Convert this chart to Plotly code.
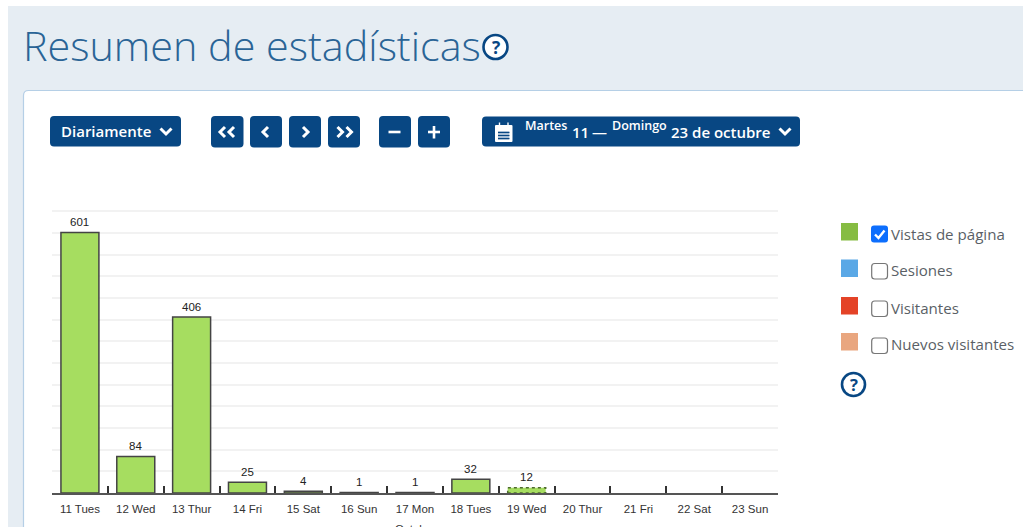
import plotly.graph_objects as go

categories = ["11 Tues", "12 Wed", "13 Thur", "14 Fri", "15 Sat", "16 Sun", "17 Mon",
              "18 Tues", "19 Wed", "20 Thur", "21 Fri", "22 Sat", "23 Sun"]
page_views = [601, 84, 406, 25, 4, 1, 1, 32, 12, None, None, None, None]
partial_day = "19 Wed"
axis_title = "Octubre"
page_title = "Resumen de estadísticas"
legend_names = ["Vistas de página", "Sesiones", "Visitantes", "Nuevos visitantes"]
legend_colors = ["#86bc42", "#5aa8e6", "#e44327", "#e9a67f"]
legend_checked = [True, False, False, False]

W, H = 1023, 527
L, R, T, B = 52, 778, 210, 493
NAVY = "#084783"


def px(x):
    return (x - L) / (R - L)


def py(y):
    return (B - y) / (B - T)


shapes = []
notes = []


def rrect(x0, y0, x1, y1, r, fill, line=None, lw=0, layer="above"):
    a, b, c, d = px(x0), px(x1), py(y0), py(y1)
    rx, ry = r / (R - L), r / (B - T)
    path = (f"M{a+rx},{c} L{b-rx},{c} Q{b},{c} {b},{c-ry} L{b},{d+ry} Q{b},{d} {b-rx},{d} "
            f"L{a+rx},{d} Q{a},{d} {a},{d+ry} L{a},{c-ry} Q{a},{c} {a+rx},{c} Z")
    shapes.append(dict(type="path", xref="paper", yref="paper", path=path, fillcolor=fill,
                       line=dict(color=line or fill, width=lw), layer=layer))


def poly(points, color="white", width=3):
    path = "M" + " L".join(f"{px(x)},{py(y)}" for x, y in points)
    shapes.append(dict(type="path", xref="paper", yref="paper", path=path,
                       line=dict(color=color, width=width), fillcolor="rgba(0,0,0,0)"))


def chev_down(cx, cy):
    poly([(cx - 5.5, cy - 2.5), (cx, cy + 3), (cx + 5.5, cy - 2.5)])


def chev_h(cx, cy, d):
    poly([(cx - d * 2.5, cy - 5), (cx + d * 2.5, cy), (cx - d * 2.5, cy + 5)])


def text(x, y, s, size, color, family="Open Sans", weight=400, anchor="left"):
    notes.append(dict(xref="paper", yref="paper", x=px(x), y=py(y), text=s, showarrow=False,
                      xanchor=anchor, yanchor="middle", borderpad=0, borderwidth=0,
                      font=dict(family=family, size=size, color=color, weight=weight)))


def help_icon(cx, cy, r):
    shapes.append(dict(type="circle", xref="paper", yref="paper", x0=px(cx - r), x1=px(cx + r),
                       y0=py(cy + r), y1=py(cy - r), line=dict(color=NAVY, width=2.6),
                       fillcolor="white"))
    text(cx, cy, "?", r * 1.45, NAVY, weight=700, anchor="center")


# Page panels
rrect(8, 6, 1040, 540, 0, "#e6edf3", layer="below")
rrect(23.5, 90.5, 1040, 560, 5, "white", line="#b5cfe6", lw=1.2, layer="below")

# Heading
text(23, 45, page_title, 41.3, "#2a6496", weight=300)
help_icon(495.5, 47, 12)

# Toolbar
rrect(50, 116, 181, 146.5, 4, NAVY)
text(61, 131, "Diariamente", 15, "white", weight=600)
chev_down(166, 131)
for x0, x1 in [(211, 243.5), (250, 282), (289, 321), (328, 360), (379, 411), (418, 450)]:
    rrect(x0, 116, x1, 147.5, 4, NAVY)
for cx in (223, 232):
    chev_h(cx - 0.5, 132, -1)
chev_h(265.5, 132, -1)
chev_h(305.5, 132, 1)
for cx in (340, 349):
    chev_h(cx, 132, 1)
poly([(388.5, 132), (400.5, 132)], width=2.6)
poly([(428, 132), (440, 132)], width=2.6)
poly([(434, 126), (434, 138.5)], width=2.6)

rrect(482, 116.5, 800, 146.5, 4, NAVY)
rrect(495, 125, 512.5, 142, 1, "white")
for x in (499.5, 508):
    poly([(x, 122.5), (x, 127)], width=1.4)
for row in (132.5, 135.5, 138.5):
    poly([(498, row), (509.5, row)], color=NAVY, width=1.7)
text(525, 125.5, "Martes", 12.5, "white", weight=600)
text(572, 132, "11", 15, "white", weight=600)
text(592, 132, "—", 15, "white", weight=600)
text(612, 125.5, "Domingo", 12.5, "white", weight=600)
text(671, 132, "23 de octubre", 15, "white", weight=600)
chev_down(785, 131)

# Series selector
swatch_y = [223, 259.5, 297, 333]
box_y = [225.5, 263, 300.5, 337.5]
label_y = [234, 270, 308, 344]
for name, col, on, sy, by, ly in zip(legend_names, legend_colors, legend_checked,
                                     swatch_y, box_y, label_y):
    rrect(841, sy, 858, sy + 17.5, 0, col)
    if on:
        rrect(871, by, 888, by + 17, 3, "#0d6efd")
        poly([(875, by + 9), (878.5, by + 12.5), (884.5, by + 5)], width=2.4)
    else:
        rrect(871.7, by + 0.5, 887.5, by + 16, 3, "white", line="#767676", lw=1.2)
    text(891, ly, name, 15.1, "#5a5f66")
help_icon(853.5, 384.5, 11.5)

# Axis title, cut by the bottom of the page as in the screenshot
text(415, 528.5, axis_title, 11.5, "#333", family="Liberation Sans", anchor="center")

# Chart
fig = go.Figure(go.Bar(
    x=categories, y=page_views, cliponaxis=False, width=0.68,
    marker=dict(color="#a6dd60",
                line=dict(color=["rgba(0,0,0,0)" if c == partial_day else "#444"
                                 for c in categories], width=1.5)),
))
for c, v in zip(categories, page_views):
    if v is not None:
        notes.append(dict(xref="x", yref="y", x=c, y=v, text=str(v), showarrow=False,
                          yanchor="middle", xanchor="center", yshift=10.5,
                          font=dict(family="Liberation Sans", size=11.5, color="#222")))
i = categories.index(partial_day)
shapes.append(dict(type="rect", xref="x", yref="y", x0=i - 0.34, x1=i + 0.34, y0=0,
                   y1=page_views[i], line=dict(color="#4d6b2c", width=1.5, dash="dot")))

fig.update_layout(
    width=W, height=H, autosize=False, showlegend=False, bargap=0.32,
    margin=dict(l=L, r=W - R, t=T, b=H - B, pad=0),
    paper_bgcolor="white", plot_bgcolor="rgba(0,0,0,0)",
    shapes=shapes, annotations=notes,
    font=dict(family="Liberation Sans"),
    xaxis=dict(type="category", categoryorder="array", categoryarray=categories,
               range=[-0.5, 12.5], tickson="boundaries", ticks="inside", ticklen=7,
               tickwidth=1.5, tickcolor="#333", showline=True, linecolor="#555", linewidth=1.5,
               showgrid=False, tickangle=0, automargin=False, ticklabelstandoff=4,
               tickfont=dict(family="Liberation Sans", size=11.5, color="#333")),
    yaxis=dict(range=[0, 653], dtick=50, showticklabels=False, ticks="", showline=False,
               zeroline=False, showgrid=True, gridcolor="#f2f2f2", gridwidth=1.5,
               automargin=False),
)
fig.write_html("out.html", config=dict(displayModeBar=False),
               post_script="document.body.style.margin='0';document.body.style.overflow='hidden';")
